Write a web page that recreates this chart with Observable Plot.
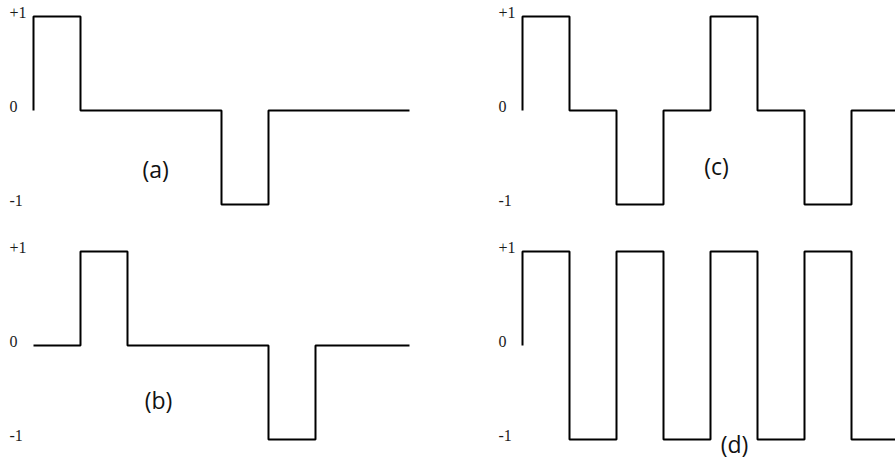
<!DOCTYPE html>
<html><head><meta charset="utf-8">
<script src="https://cdn.jsdelivr.net/npm/d3@7"></script>
<script src="https://cdn.jsdelivr.net/npm/@observablehq/plot@0.6"></script>
<style>html,body{margin:0;padding:0;background:#fff;overflow:hidden}</style>
</head><body><div id="chart"></div>
<script>
// ---- data ----
const panelNames = ["(a)", "(b)", "(c)", "(d)"];
const panelCols = ["L", "L", "R", "R"];
const panelRows = ["top", "bottom", "top", "bottom"];
const startLevels = [0, 0, 0, 0];
const levelsA = [1, 0, 0, 0, -1, 0, 0, 0];
const levelsB = [0, 1, 0, 0, 0, -1, 0, 0];
const levelsC = [1, 0, -1, 0, 1, 0, -1, 0];
const levelsD = [1, -1, 1, -1, 1, -1, 1, -1];
const tickValues = [1, 0, -1];
const tickLabels = ["+1", "0", "-1"];

// ---- layout (label placement in data units) ----
const labelX = [2.6, 2.66, 4.13, 4.51];
const labelY = [-0.64, -0.6, -0.61, -1.06];

const allLevels = [levelsA, levelsB, levelsC, levelsD];
const points = [];
allLevels.forEach((lv, p) => {
  const base = {panel: panelNames[p], col: panelCols[p], row: panelRows[p]};
  points.push({...base, x: 0, y: startLevels[p]});
  lv.forEach((v, i) => points.push({...base, x: i, y: v}));
  points.push({...base, x: lv.length, y: lv[lv.length - 1]});
});
const ticks = [];
panelNames.forEach((n, p) => tickValues.forEach((v, i) =>
  ticks.push({col: panelCols[p], row: panelRows[p], value: v, label: tickLabels[i]})));
const labels = panelNames.map((n, p) => ({col: panelCols[p], row: panelRows[p], text: n, x: labelX[p], y: labelY[p]}));

const chart = Plot.plot({
  width: 895, height: 458,
  marginLeft: 33, marginRight: -3, marginTop: 16, marginBottom: 19,
  x: {domain: [0, 8], axis: null},
  y: {domain: [-1, 1], axis: null},
  fx: {domain: ["L", "R"], paddingInner: 0.2311, paddingOuter: 0, round: false, axis: null},
  fy: {domain: ["top", "bottom"], paddingInner: 0.2, paddingOuter: 0, round: false, axis: null},
  marks: [
    Plot.line(points, {x: "x", y: "y", z: "panel", fx: "col", fy: "row", curve: "step-after",
      stroke: "#000", strokeWidth: 2, strokeLinejoin: "miter", strokeLinecap: "butt"}),
    Plot.text(ticks, {y: "value", text: "label", fx: "col", fy: "row", frameAnchor: "left",
      textAnchor: "start", dx: -24, dy: -4, fontFamily: "Liberation Serif", fontSize: 16, fill: "#1a1a1a"}),
    Plot.text(labels, {x: "x", y: "y", text: "text", fx: "col", fy: "row",
      fontFamily: "Open Sans", fontSize: 23, fill: "#111"})
  ]
});
document.getElementById("chart").appendChild(chart);
</script>
</body></html>
